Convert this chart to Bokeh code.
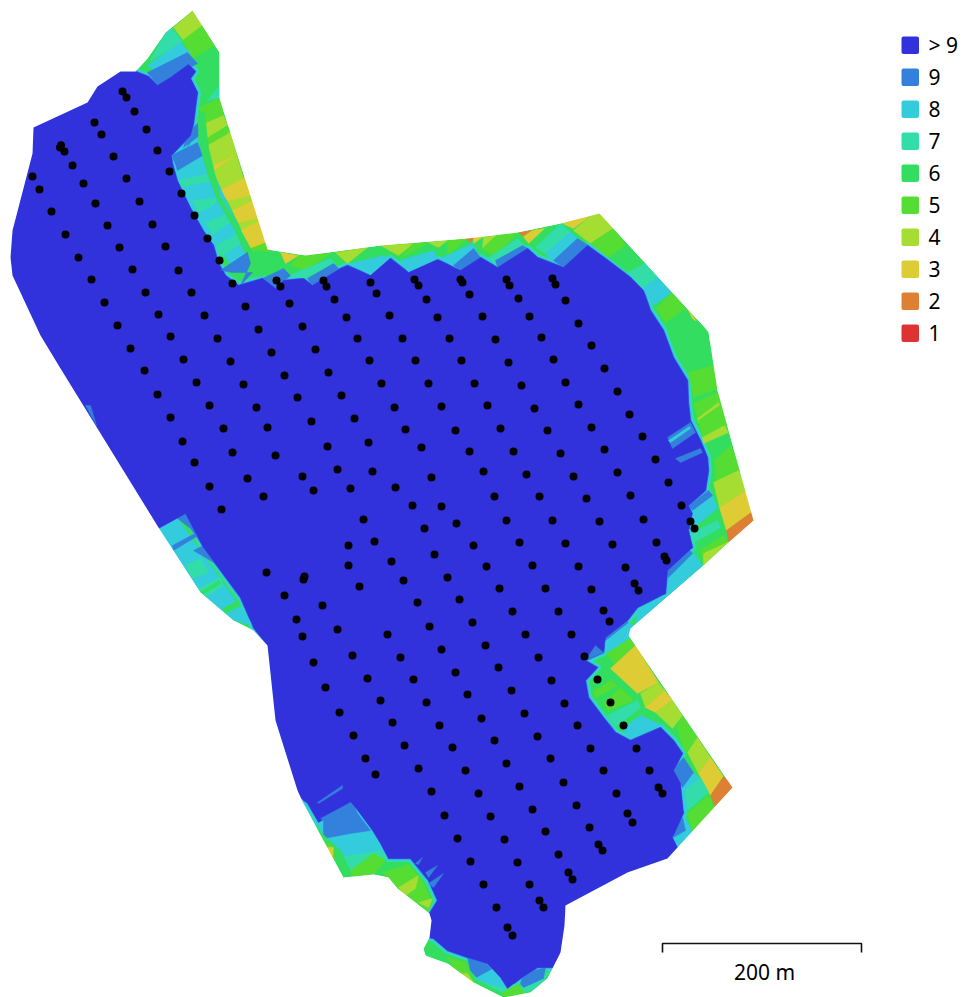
from bokeh.plotting import figure
from bokeh.models import Range1d, ColumnDataSource
from bokeh.core.properties import value
from bokeh.embed import file_html
from bokeh.resources import INLINE

LEVELS = ["> 9", "9", "8", "7", "6", "5", "4", "3", "2", "1"]
COLORS = ["#3232dc", "#3380dd", "#33ccdd", "#33ddaa", "#33dd5f", "#55dd33", "#a5dd33", "#ddcc33", "#dd8033", "#dd3333"]
COLOR = dict(zip(LEVELS, COLORS))
SCALE_LABEL = "200 m"

OUTLINE = [(192,10),(219,52),(219,98),(267,249),(305,255),(380,245),(467,238),(517,232),(560,223),(599,213),(705,328),(708,332),(717,390),
 (753,520),(728,542),(703,565),(630,628),(628,635),(732,787),(677,847),(667,858),(627,872),(580,897),(565,905),(564,925),(560,952),(547,978),(530,992),
 (503,997),(473,982),(447,963),(425,955),(423,948),(429,937),(431,920),(429,913),(397,888),(388,877),(373,874),(343,877),(303,803),(297,790),
 (275,720),(267,645),(253,630),(233,620),(200,592),(158,527),(60,368),(40,335),(12,275),(10,257),(12,230),(32,153),(33,127),(87,102),(97,86),
 (120,71),(135,71),(147,58),(165,32)]

DEEP = [(120,71),(135,71),(148,76),(157,85),(170,77),(188,64),(195,71),(190,78),(197,92),(195,107),(193,123),(190,135),(171,155),(172,162),(177,180),
 (190,207),(203,230),(213,245),(218,263),(225,275),(238,285),(262,278),(275,288),(283,280),(303,278),(312,285),(340,268),(347,265),(370,275),(390,258),
 (408,272),(437,259),(460,270),(480,257),(497,267),(527,248),(537,257),(563,267),(587,245),(605,258),(630,277),(643,290),(650,310),(663,330),(673,357),
 (687,380),(688,403),(690,420),(700,440),(707,457),(708,470),(705,490),(688,505),(692,513),(688,530),(692,547),(667,570),(665,593),(637,607),(627,620),
 (605,637),(603,652),(585,660),(597,667),(585,680),(588,697),(603,717),(615,732),(630,740),(660,727),(673,740),(682,753),(673,770),(680,783),(683,813),
 (672,837),(677,847),(667,858),(627,872),(580,897),(565,905),(564,925),(560,953),(552,967),(537,967),(520,978),(507,988),(500,977),(487,963),(467,957),
 (447,950),(433,938),(429,937),(431,920),(429,913),(437,900),(428,880),(410,858),(388,858),(380,843),(372,830),(355,807),(350,802),(318,822),(307,803),
 (300,797),(297,790),(275,720),(267,645),(253,627),(240,597),(220,570),(203,547),(185,513),(158,528),(60,368),(40,335),(12,275),(10,257),(12,230),(32,153),
 (33,127),(87,102),(97,86)]

NW_ZONES = [
 ("4",[(192,10),(202,25),(183,40),(173,27)]),
 ("5",[(202,25),(214,45),(192,58),(182,40)]),
 ("7",[(172,28),(182,42),(150,60),(165,32)]),
 ("8",[(180,42),(190,53),(157,72),(147,65)]),
 ("9",[(187,52),(197,63),(157,85),(147,72)]),
 ("7",[(219,85),(221,97),(207,100)]),
 ("5",[(220,97),(223,115),(202,125),(199,107)]),
 ("4",[(223,115),(227,125),(203,140),(200,125)]),
 ("5",[(227,125),(230,132),(207,145),(203,140)]),
 ("4",[(230,132),(243,178),(250,195),(256,198),(262,222),(268,245),(250,248),(232,210),(213,173),(207,145)]),
 ("3",[(233,156),(213,170),(214,165)]),
 ("3",[(245,177),(250,195),(227,200),(220,190)]),
 ("3",[(256,198),(260,217),(238,222),(232,210)]),
 ("3",[(260,220),(266,242),(250,248),(240,230)]),
 ("5",[(266,242),(270,250),(255,257),(250,248)]),
 ("8",[(172,155),(197,132),(212,170),(233,217),(252,252),(230,263),(217,247),(203,233),(188,208),(173,177)]),
 ("9",[(172,155),(197,142),(202,155),(177,170)]),
 ("9",[(187,132),(197,123),(199,135),(183,147)]),
 ("7",[(178,180),(210,173),(213,180),(180,187)]),
 ("7",[(192,200),(217,197),(213,205),(197,212)]),
 ("7",[(205,222),(228,213),(232,220),(212,234)]),
 ("7",[(215,245),(240,232),(244,240),(222,256)]),
 ("6",[(198,110),(204,112),(208,147),(220,197),(240,230),(255,257),(248,260),(233,227),(217,200),(207,173),(198,140)]),
 ("6",[(255,250),(282,255),(282,263),(258,277),(252,257)]),
 ("9",[(220,270),(247,252),(250,263),(240,285),(252,272),(232,272)]),
]

TOP_ZONES = [
 ("3",[(280,252),(298,255),(285,263)]),
 ("5",[(298,255),(330,253),(305,270),(290,265)]),
 ("4",[(335,252),(367,247),(347,263)]),
 ("4",[(380,245),(413,243),(398,255)]),
 ("5",[(413,243),(428,242),(400,258)]),
 ("4",[(428,242),(447,240),(438,247)]),
 ("5",[(447,240),(467,238),(447,255)]),
 ("2",[(465,238),(473,237),(470,242)]),
 ("3",[(473,237),(483,236),(473,243)]),
 ("4",[(483,237),(497,234),(482,248)]),
 ("5",[(497,234),(517,232),(495,257),(482,248)]),
 ("2",[(518,232),(532,230),(523,236)]),
 ("3",[(532,230),(544,228),(528,243),(523,236)]),
 ("7",[(288,275),(330,258),(335,263),(303,278)]),
 ("9",[(262,278),(283,268),(290,275),(275,288)]),
 ("9",[(307,278),(333,263),(340,270),(312,285)]),
 ("8",[(350,263),(383,255),(388,258),(370,275)]),
 ("8",[(400,260),(433,250),(438,259),(408,272)]),
 ("8",[(440,258),(472,243),(480,257),(460,270)]),
 ("9",[(453,265),(473,248),(480,257),(460,270)]),
 ("7",[(488,257),(517,238),(527,248),(497,267)]),
 ("9",[(495,260),(522,245),(527,248),(497,267)]),
 ("7",[(535,247),(560,223),(570,232),(545,253)]),
 ("8",[(570,232),(577,238),(553,262),(545,253)]),
 ("9",[(577,238),(588,245),(563,267),(553,260)]),
 ("3",[(562,223),(590,215),(573,228)]),
 ("4",[(590,215),(599,213),(613,228),(590,243),(573,230)]),
 ("5",[(613,228),(626,245),(608,257),(590,243)]),
 ("6",[(626,245),(645,263),(627,272),(608,257)]),
 ("7",[(645,263),(657,277),(642,288),(627,272)]),
 ("8",[(657,277),(671,292),(653,305),(642,288)]),
]

EAST_ZONES = [
 ("5",[(671,292),(685,308),(665,322),(656,308)]),
 ("3",[(687,308),(697,322),(692,318)]),
 ("6",[(697,320),(710,332),(707,340),(677,357),(667,330)]),
 ("6",[(710,340),(713,365),(690,373),(680,355)]),
 ("5",[(713,365),(720,387),(693,397),(688,372)]),
 ("5",[(720,390),(722,403),(697,418),(693,403)]),
 ("4",[(697,418),(718,402),(720,407),(698,422)]),
 ("5",[(722,403),(727,423),(702,437),(698,420)]),
 ("4",[(724,425),(728,432),(703,443),(702,437)]),
 ("5",[(730,445),(742,470),(716,482),(714,460)]),
 ("4",[(738,470),(746,490),(719,507),(713,482)]),
 ("3",[(746,490),(752,511),(726,530),(719,507)]),
 ("2",[(752,511),(756,520),(729,545),(726,530)]),
 ("8",[(688,505),(710,490),(717,508),(690,530)]),
 ("9",[(688,505),(708,490),(712,495),(692,510)]),
 ("7",[(690,533),(717,520),(720,527),(692,543)]),
 ("5",[(700,550),(723,535),(728,542),(703,563)]),
 ("4",[(703,553),(727,542),(703,565)]),
 ("8",[(668,573),(690,548),(702,565),(668,595)]),
 ("9",[(667,570),(688,548),(692,553),(668,577)]),
 ("5",[(668,597),(701,567),(700,571),(672,596)]),
 ("8",[(637,610),(662,595),(667,595),(635,625)]),
 ("8",[(605,637),(623,622),(635,625),(630,630)]),
]

SE_ZONES = [
 ("5",[(629,636),(635,645),(610,667),(607,652)]),
 ("6",[(592,690),(607,655),(640,697),(658,720),(628,734),(607,713)]),
 ("3",[(635,645),(658,682),(637,693),(610,668)]),
 ("4",[(658,682),(664,690),(645,707),(640,693)]),
 ("3",[(664,690),(672,700),(655,712),(645,707)]),
 ("4",[(672,700),(682,715),(672,728),(655,712)]),
 ("5",[(682,715),(697,737),(685,752),(676,727)]),
 ("4",[(697,737),(710,757),(698,773),(687,752)]),
 ("3",[(710,757),(723,776),(710,795),(698,773)]),
 ("2",[(723,776),(735,787),(715,807),(710,795)]),
 ("5",[(708,795),(714,807),(692,831),(687,813)]),
 ("8",[(680,783),(693,773),(700,778),(687,810),(683,810)]),
 ("7",[(685,790),(700,777),(708,792),(687,810)]),
 ("9",[(672,770),(683,757),(693,772),(682,787)]),
 ("8",[(683,813),(692,832),(677,847),(672,837)]),
 ("9",[(675,827),(682,817),(685,830),(673,837)]),
 ("8",[(603,640),(628,622),(630,637),(607,652)]),
 ("9",[(603,635),(623,620),(628,622),(605,640)]),
 ("8",[(628,738),(662,725),(640,715),(622,728)]),
 ("7",[(607,715),(637,700),(640,707),(616,726)]),
 ("5",[(592,692),(610,680),(617,685),(596,697)]),
 ("5",[(603,702),(620,687),(633,700),(607,710)]),
]

SOUTH_ZONES = [
 ("8",[(303,802),(350,800),(373,830),(387,857),(340,862)]),
 ("9",[(323,820),(353,803),(357,813),(370,830),(350,833),(323,838)]),
 ("7",[(308,813),(323,840),(333,863),(343,875)]),
 ("7",[(338,857),(380,850),(387,858),(350,870)]),
 ("6",[(315,827),(340,850),(353,877),(343,877)]),
 ("5",[(323,842),(332,845),(335,858),(330,860)]),
 ("3",[(325,847),(333,847),(332,857)]),
 ("5",[(350,870),(373,853),(385,860),(373,874),(353,877)]),
 ("5",[(382,872),(408,864),(423,882),(432,903),(428,911),(397,888),(388,877)]),
 ("4",[(398,887),(418,875),(415,888),(405,895)]),
 ("4",[(418,902),(432,898),(428,907)]),
 ("6",[(423,950),(433,945),(447,955),(453,957),(447,963),(427,957)]),
 ("7",[(467,960),(475,978),(503,993),(523,988),(503,979)]),
 ("5",[(447,957),(465,962),(473,983),(457,973)]),
 ("4",[(458,973),(467,973),(473,982)]),
 ("9",[(467,957),(483,960),(492,970),(477,978),(470,970)]),
 ("8",[(475,978),(493,968),(502,978),(507,988),(487,983)]),
 ("5",[(500,993),(517,984),(525,992),(507,997)]),
 ("7",[(520,987),(550,970),(537,988),(525,992)]),
 ("9",[(520,983),(523,973),(545,967),(543,978),(523,987)]),
]

WEST_ZONES = [
 ("8",[(158,528),(177,518),(247,617),(253,625),(233,620),(200,592)]),
 ("9",[(177,518),(185,513),(197,527),(205,537),(200,542),(190,528)]),
 ("9",[(193,550),(203,545),(220,560),(215,563)]),
 ("9",[(172,545),(200,530),(201,533),(173,550)]),
 ("7",[(185,565),(200,558),(208,572),(192,578)]),
 ("7",[(198,588),(220,577),(223,585),(205,597)]),
 ("6",[(200,592),(218,580),(220,583),(203,593)]),
 ("6",[(222,608),(238,600),(240,605),(225,613)]),
]

SPIKES = [
 ("9",[(585,660),(595,645),(603,652)]),
 ("9",[(667,437),(690,422),(695,432),(672,448)]),
 ("8",[(668,440),(689,426),(690,428),(670,442)]),
 ("9",[(675,458),(700,448),(702,452),(680,462)]),
 ("9",[(317,802),(342,785),(342,788),(318,803)]),
 ("9",[(320,818),(350,802),(353,805),(325,822)]),
 ("9",[(415,863),(422,857),(418,864)]),
 ("9",[(425,872),(437,865),(428,877)]),
 ("9",[(428,883),(443,873),(433,887)]),
 ("9",[(171,155),(187,147),(190,140),(197,130),(176,165)]),
 ("9",[(220,270),(247,252),(238,262)]),
 ("9",[(85,405),(90,405),(96,425)]),
]

POINTS_X = [122,126,134,94,101,146,60.5,59.5,64,157,113,72,169,32,39,126,83,181,139,95,51,194,152,107,65,207,119,165,78,219,132,178,91,232,276,280,145,191,104,
 323,326,370,376,414,418,460,462,469,506,509,552,555,245,289,334,426,518,389,346,437,482,529,258,302,357,402,449,495,541,271,315,369,415,461,508,553,284,328,243,381,428,474,521,297,341,
 565,578,591,604,565,617,158,204,117,170,217,130,183,230,144,196,157,209,256,170,223,267,311,354,182,232,275,327,368,194,247,302,337,372,209,263,313,350,221,363,374,348,348,266,304,303,359,284,
 394,441,487,534,578,629,405,455,500,547,591,642,421,469,513,560,604,655,431,483,526,573,617,668,395,494,539,586,630,681,412,441,424,456,506,552,599,643,690,694,473,519,565,612,656,434,391,486,532,578,625,664,666,403,447,499,545,591,634,638,
 417,459,512,558,603,609,429,472,387,525,571,322,296,337,302,352,400,441,485,538,313,367,413,455,498,551,325,380,426,467,511,564,339,392,439,481,524,577,353,404,452,494,537,365,375,418,465,506,550,431,478,519,563,444,490,532,576,
 584,597,610,623,590,636,603,649,658,662,616,627,632,589,598,602,545,457,504,558,470,517,568,572,483,529,539,543,496,507,512]
POINTS_Y = [91,97,111,122,134,129,144.7,147,151,150,156,165,171,176,189,178,183,193,201,203,211,215,224,225,234,238,247,246,257,260,269,270,279,283,280,286,292,292,302,
 280,286,282,293,279,285,279,282,294,279,285,278,284,306,303,299,299,298,315,317,317,316,316,329,326,338,338,338,339,337,352,349,360,360,360,362,359,375,372,384,383,383,383,385,397,395,
 300,323,345,368,382,391,314,315,325,336,338,348,359,361,370,382,394,405,407,417,428,427,421,418,441,452,455,446,442,462,478,476,469,471,486,496,490,488,509,519,541,545,565,572,576,579,586,595,
 407,406,405,408,404,414,429,430,428,430,427,436,447,451,451,453,449,459,477,471,474,476,472,482,487,496,496,498,495,505,505,506,528,523,520,520,521,519,521,528,545,542,543,544,542,554,561,566,565,566,567,556,560,580,577,588,588,589,583,590,
 602,599,611,611,610,621,626,622,634,634,634,605,619,629,636,655,657,649,645,657,662,678,679,672,667,680,687,700,702,694,690,703,712,722,725,718,713,725,735,745,747,740,736,758,774,768,770,763,758,791,793,786,782,815,816,809,805,
 656,679,702,725,748,748,770,770,787,793,793,813,822,827,844,850,831,838,839,854,861,862,872,879,884,884,900,907,907,927,935]

SCALE_X0, SCALE_X1, SCALE_Y, SCALE_TICK_Y = 662, 861, 943, 952

p = figure(width=966, height=997, x_range=Range1d(0, 966), y_range=Range1d(997, 0),
           toolbar_location=None, output_backend="svg", min_border=0,
           background_fill_color="white", border_fill_color="white", outline_line_color=None)
p.styles = {"position": "absolute", "left": "0", "top": "0"}
p.xaxis.visible = False
p.yaxis.visible = False
p.grid.visible = False


def xy(poly):
    return [q[0] for q in poly], [q[1] for q in poly]


def draw(zones):
    xs = [xy(z[1])[0] for z in zones]
    ys = [xy(z[1])[1] for z in zones]
    cols = [COLOR[z[0]] for z in zones]
    p.patches(xs="xs", ys="ys", fill_color="c", line_color="c", line_width=0.5,
              source=ColumnDataSource(dict(xs=xs, ys=ys, c=cols)))


ox, oy = xy(OUTLINE)
p.patch(ox, oy, fill_color=COLOR["6"], line_color=None)

dx, dy = xy(DEEP)
p.patch(dx, dy, fill_color=None, line_color=COLOR["7"], line_width=7, line_join="round")
p.patch(dx, dy, fill_color=None, line_color=COLOR["8"], line_width=4.5, line_join="round")
p.patch(dx, dy, fill_color=None, line_color=COLOR["9"], line_width=1.6, line_join="round")

for zones in (NW_ZONES, TOP_ZONES, EAST_ZONES, SE_ZONES, SOUTH_ZONES, WEST_ZONES):
    draw(zones)

p.patch(dx, dy, fill_color=COLOR["> 9"], line_color=COLOR["> 9"], line_width=0.5)
draw(SPIKES)

box_x, box_y = [-5, 971, 971, -5], [-5, -5, 1002, 1002]
p.multi_polygons(xs=[[[box_x, ox]]], ys=[[[box_y, oy]]], fill_color="white", line_color=None)

p.scatter(POINTS_X, POINTS_Y, size=8, marker="circle", fill_color="black", line_color=None)

ly = [44.7 + 32 * i for i in range(len(LEVELS))]
p.quad(left=901, right=918.5, top=[y - 8.7 for y in ly], bottom=[y + 8.7 for y in ly],
       fill_color=COLORS, line_color=None, border_radius=2)
p.text(x=928, y=ly, text=LEVELS, text_font=value("Noto Sans"), text_font_size="21px",
       text_color="#000000", text_baseline="middle", text_align="left")

p.line([SCALE_X0, SCALE_X0, SCALE_X1, SCALE_X1], [SCALE_TICK_Y, SCALE_Y, SCALE_Y, SCALE_TICK_Y],
       line_color="#111111", line_width=1.6)
p.text(x=[764], y=[971], text=[SCALE_LABEL], text_font=value("Noto Sans"), text_font_size="21px",
       text_color="#000000", text_baseline="middle", text_align="center")

open("out.html", "w").write(file_html(p, INLINE))
